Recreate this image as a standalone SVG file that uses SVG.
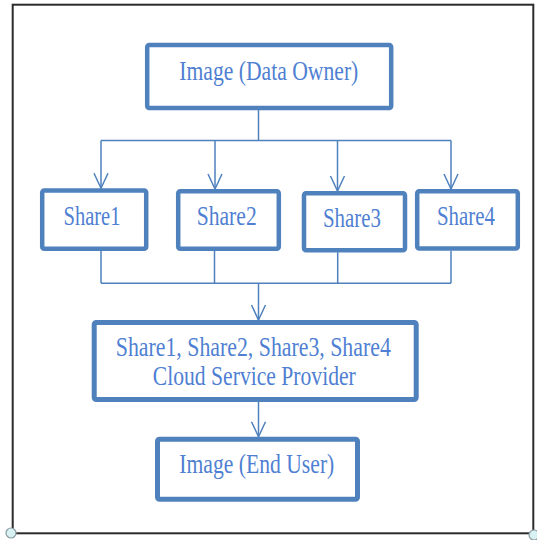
<svg xmlns="http://www.w3.org/2000/svg" width="537" height="540" viewBox="0 0 537 540">
<style>
.box{fill:#ffffff;stroke:#4f81bd;stroke-width:4.5;}
.lbl{font-family:"Liberation Serif","Times New Roman",serif;font-size:27px;fill:#4f7fd2;text-anchor:middle;}
.con{fill:none;stroke:#4f81bd;stroke-width:1.5;}
.frame{fill:#ffffff;stroke:#2b2b2b;stroke-width:2;}
.handle{fill:#d8f1f3;stroke:#8c9ea3;stroke-width:1.2;}
</style>
<defs>
<marker id="arr" markerUnits="userSpaceOnUse" markerWidth="20" markerHeight="20" refX="0" refY="0" orient="auto" overflow="visible">
<path d="M -15 -7 L 0 0 L -15 7" fill="none" stroke="#4f81bd" stroke-width="1.5"/>
</marker>
</defs>
<rect width="537" height="540" fill="#ffffff"/>
<rect class="frame" x="12.7" y="4.7" width="520.6" height="528.6"/>
<circle class="handle" cx="11" cy="533" r="5"/>
<circle class="handle" cx="534" cy="535" r="5"/>

<g id="connectors">
<path class="con" d="M 258.5 110 V 140.5 M 101 140.5 H 451"/>
<path class="con" marker-end="url(#arr)" d="M 101 140.5 V 188.3"/>
<path class="con" marker-end="url(#arr)" d="M 215 140.5 V 189"/>
<path class="con" marker-end="url(#arr)" d="M 337.5 140.5 V 191"/>
<path class="con" marker-end="url(#arr)" d="M 451 140.5 V 189"/>
<path class="con" d="M 101 251 V 283.3 M 214.5 251 V 283.3 M 337.7 252.3 V 283.3 M 451 250.7 V 283.3 M 101 283.3 H 451"/>
<path class="con" marker-end="url(#arr)" d="M 258.5 283.3 V 320"/>
<path class="con" marker-end="url(#arr)" d="M 258.5 402 V 436.7"/>
</g>

<g id="node-owner">
<rect class="box" x="147.2" y="45" width="244" height="63" rx="2"/>
<text class="lbl" x="268.8" y="80" textLength="179" lengthAdjust="spacingAndGlyphs">Image (Data Owner)</text>
</g>
<g id="node-share1">
<rect class="box" x="42.2" y="190.5" width="104" height="58.3" rx="2"/>
<text class="lbl" x="92" y="225" textLength="57" lengthAdjust="spacingAndGlyphs">Share1</text>
</g>
<g id="node-share2">
<rect class="box" x="178.2" y="191.2" width="100.6" height="57.6" rx="2"/>
<text class="lbl" x="226.7" y="225" textLength="60" lengthAdjust="spacingAndGlyphs">Share2</text>
</g>
<g id="node-share3">
<rect class="box" x="304" y="193.2" width="101" height="57" rx="2"/>
<text class="lbl" x="352" y="226.7" textLength="58" lengthAdjust="spacingAndGlyphs">Share3</text>
</g>
<g id="node-share4">
<rect class="box" x="417.2" y="191.2" width="100.6" height="57.3" rx="2"/>
<text class="lbl" x="466" y="225" textLength="58" lengthAdjust="spacingAndGlyphs">Share4</text>
</g>
<g id="node-csp">
<rect class="box" x="94.2" y="322.5" width="322" height="77" rx="2" style="stroke-width:5"/>
<text class="lbl" x="253.3" y="356" textLength="275" lengthAdjust="spacingAndGlyphs">Share1, Share2, Share3, Share4</text>
<text class="lbl" x="254.3" y="385" textLength="203" lengthAdjust="spacingAndGlyphs">Cloud Service Provider</text>
</g>
<g id="node-enduser">
<rect class="box" x="157.5" y="439.2" width="200" height="60" rx="2" style="stroke-width:5"/>
<text class="lbl" x="256.8" y="472.7" textLength="155" lengthAdjust="spacingAndGlyphs">Image (End User)</text>
</g>
</svg>
